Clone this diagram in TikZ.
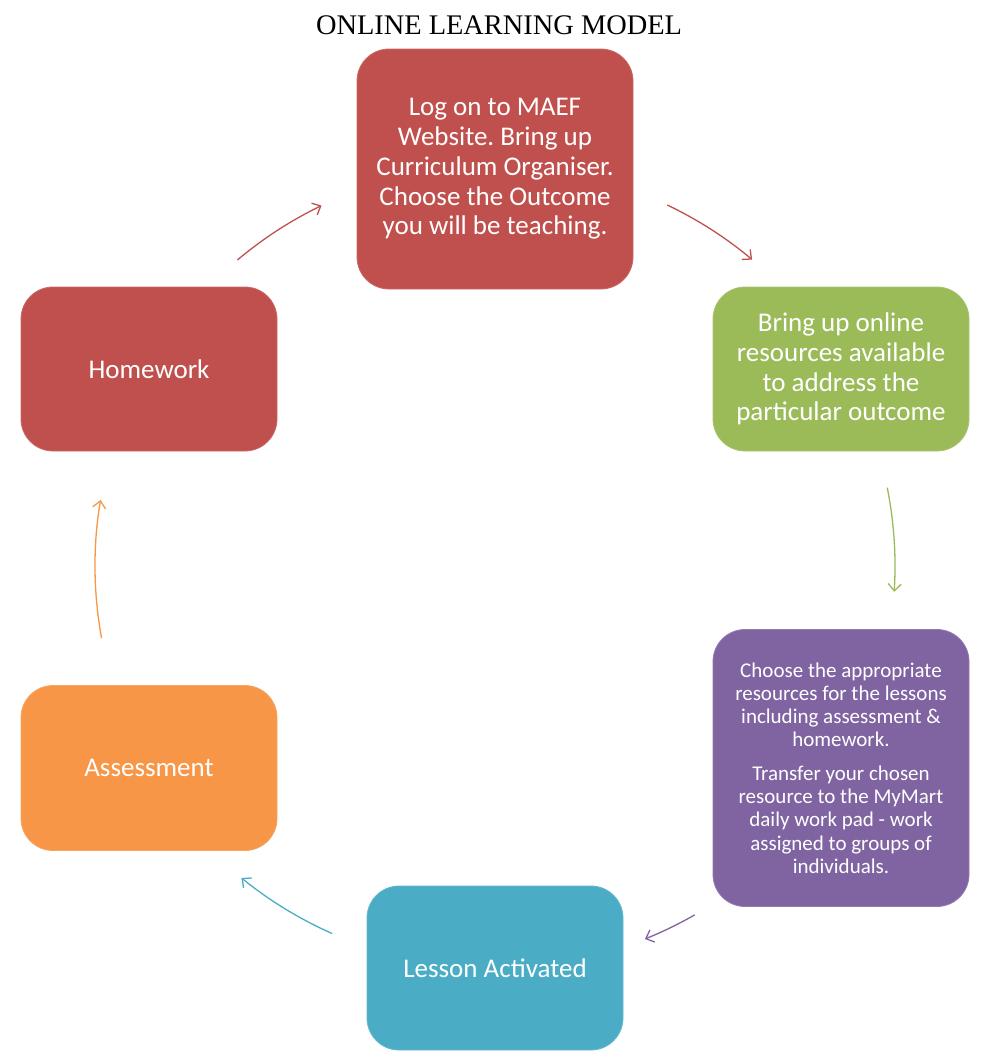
\documentclass[tikz,border=0pt]{standalone}
\usepackage{fontspec}
\setmainfont{Carlito}
\newfontfamily\titlefont{Liberation Serif}
\usetikzlibrary{arrows.meta,calc}
\frenchspacing
\definecolor{cred}{HTML}{C0504D}
\definecolor{cgreen}{HTML}{9BBB59}
\definecolor{cpurple}{HTML}{8064A2}
\definecolor{cteal}{HTML}{4BACC6}
\definecolor{corange}{HTML}{F79646}
\tikzset{
  box/.style={rounded corners=32pt, draw=#1!85!white, fill=#1, line width=0.8pt,
    text=white, align=center, inner sep=0pt,
    font=\fontsize{27}{29.8}\selectfont},
  cyc/.style={draw=#1, line width=1.3pt, -{Straight Barb[length=7pt,width=13pt]}},
}
\begin{document}
\begin{tikzpicture}[x=1pt,y=1pt]
\useasboundingbox (0,0) rectangle (992,-1063);
\node[font=\titlefont\fontsize{28.4}{30}\selectfont, inner sep=0pt] (title) at (499,-25) {ONLINE LEARNING MODEL};
\node[box=cred, minimum width=276pt, minimum height=240pt] (log) at (495,-169)
  {Log on to MAEF\\Website. Bring up\\Curriculum Organiser.\\Choose the Outcome\\you will be teaching.};
\node[box=cgreen, minimum width=256pt, minimum height=164pt] (res) at (841,-369)
  {Bring up online\\resources available\\to address the\\particular outcome};
\node[box=cpurple, minimum width=256pt, minimum height=277pt, font=\fontsize{21}{23.3}\selectfont] (choose) at (841,-768)
  {Choose the appropriate\\resources for the lessons\\including assessment \&\\homework.\\[10pt]
   Transfer your chosen\\resource to the MyMart\\daily work pad - work\\assigned to groups of\\individuals.};
\node[box=cteal, minimum width=256pt, minimum height=164pt] (lesson) at (495,-968) {Lesson Activated};
\node[box=corange, minimum width=256pt, minimum height=165pt] (assess) at (149,-768) {Assessment};
\node[box=cred, minimum width=256pt, minimum height=164pt] (home) at (149,-369) {Homework};
\coordinate (ctr) at (495,-566);
\coordinate (s1) at ($(ctr)+(130.1:400)$);
\coordinate (s2) at ($(ctr)+(64.5:400)$);
\coordinate (s3) at ($(ctr)+(11.3:400)$);
\coordinate (s4) at ($(ctr)+(-60.2:402)$);
\coordinate (s5) at ($(ctr)+(-113.9:402)$);
\coordinate (s6) at ($(ctr)+(-169.6:400)$);
\draw[cyc=cred] (s1) arc[start angle=130.1, end angle=115.7, radius=400];
\draw[cyc=cred] (s2) arc[start angle=64.5, end angle=50, radius=400];
\draw[cyc=cgreen] (s3) arc[start angle=11.3, end angle=-3.7, radius=400];
\draw[cyc=cpurple] (s4) arc[start angle=-60.2, end angle=-68.1, radius=402];
\draw[cyc=cteal] (s5) arc[start angle=-113.9, end angle=-129.1, radius=402];
\draw[cyc=corange] (s6) arc[start angle=-169.6, end angle=-189.5, radius=400];
\end{tikzpicture}
\end{document}
